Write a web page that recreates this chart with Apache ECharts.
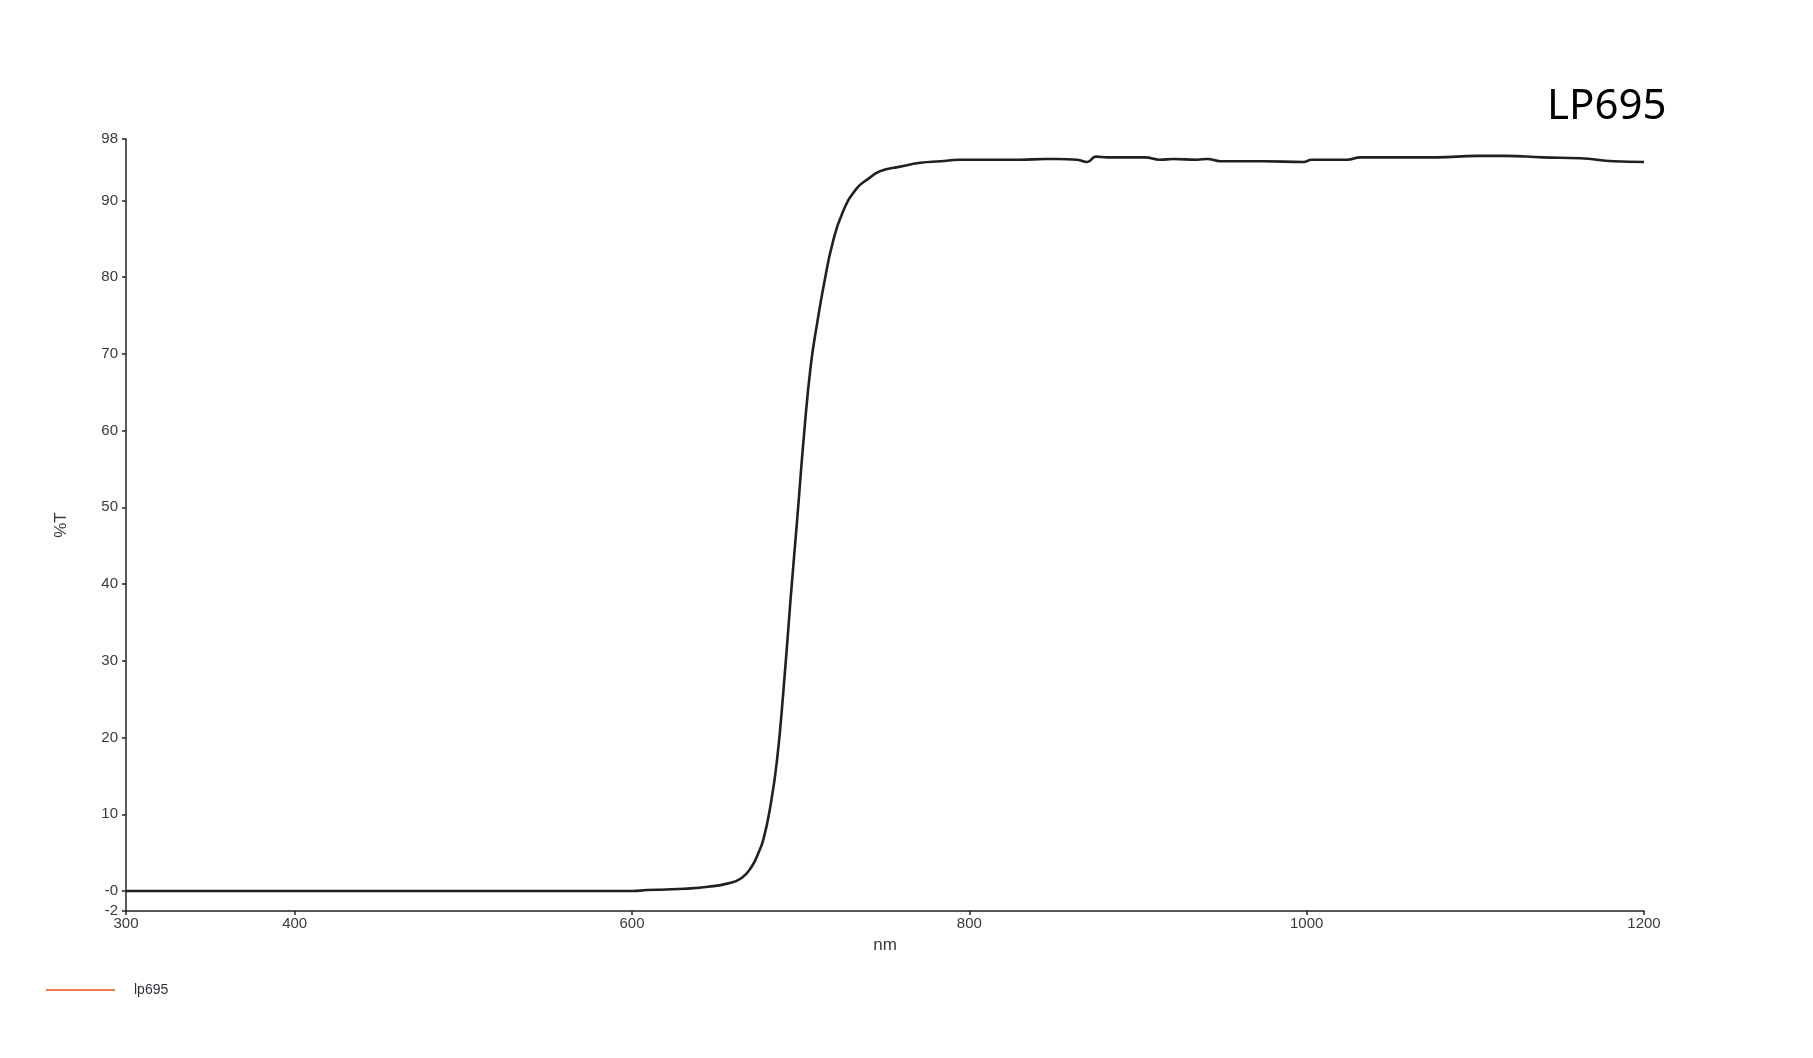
<!DOCTYPE html>
<html>
<head>
<meta charset="utf-8">
<script src="https://cdn.jsdelivr.net/npm/echarts@6/dist/echarts.min.js"></script>
<style>
html,body{margin:0;padding:0;background:#fff;}
#chart{width:1813px;height:1058px;}
</style>
</head>
<body>
<div id="chart"></div>
<script>
const wavelength = [300, 350, 400, 450, 500, 550, 600, 609, 620, 631, 645, 657, 665, 671, 675, 678, 682, 686, 690, 694, 698, 702, 706, 710, 714, 719, 725, 733, 740, 747, 759, 771, 783, 794, 810, 830, 845, 852, 864, 870, 875, 882, 904, 913, 921, 935, 941, 949, 975, 998, 1003, 1024, 1032, 1050, 1067, 1077, 1101, 1118, 1140, 1162, 1182, 1200];
const transmission = [0, 0, 0, 0, 0, 0, 0, 0.13, 0.2, 0.3, 0.56, 1.0, 1.7, 3.2, 5.0, 6.8, 11.0, 17.1, 26.7, 38.0, 48.6, 59.5, 68.5, 74.3, 79.3, 84.5, 88.5, 91.5, 92.8, 93.8, 94.4, 94.9, 95.1, 95.3, 95.3, 95.3, 95.4, 95.4, 95.3, 95.0, 95.7, 95.6, 95.6, 95.3, 95.4, 95.3, 95.4, 95.1, 95.1, 95.0, 95.3, 95.3, 95.6, 95.6, 95.6, 95.6, 95.8, 95.8, 95.6, 95.5, 95.1, 95.0];
const xTickValues = [300, 400, 600, 800, 1000, 1200];
const yTickValues = [-2.6, 0, 10, 20, 30, 40, 50, 60, 70, 80, 90, 98];
const yTickLabels = ['-2', '-0', '10', '20', '30', '40', '50', '60', '70', '80', '90', '98'];
const seriesName = 'lp695';
const chartTitle = 'LP695';
const xName = 'nm';
const yName = '%T';

const points = wavelength.map((w, i) => [w, transmission[i]]);
const chart = echarts.init(document.getElementById('chart'), null, {renderer: 'canvas'});
const axisFont = {fontFamily: 'Liberation Sans, Arial, sans-serif', fontSize: 15, color: '#3a3a3a'};
chart.setOption({
  backgroundColor: '#ffffff',
  animation: false,
  grid: {left: 126, right: 169, top: 139, bottom: 147, containLabel: false},
  graphic: [{
    type: 'text', left: 1547, top: 86,
    style: {text: chartTitle, fontFamily: 'Noto Sans, Open Sans, sans-serif', fontSize: 42, fill: '#000'}
  }],
  legend: {
    left: 46, top: 983, padding: 0, icon: 'rect', itemWidth: 69, itemHeight: 2,
    data: [{name: seriesName, itemStyle: {color: '#f07c4c'}}],
    textStyle: {fontFamily: 'Liberation Sans, Arial, sans-serif', fontSize: 14, color: '#2f2f3a', padding: [0, 0, 0, 14]}
  },
  xAxis: {
    type: 'value', min: 300, max: 1200,
    name: xName, nameLocation: 'middle', nameGap: 26,
    nameTextStyle: {fontFamily: 'Liberation Sans, Arial, sans-serif', fontSize: 17, color: '#3a3a3a'},
    axisLine: {show: true, onZero: false, lineStyle: {color: '#222', width: 1.5}},
    axisTick: {show: true, length: 4, customValues: xTickValues, lineStyle: {color: '#222', width: 1.5}},
    axisLabel: Object.assign({margin: 5, customValues: xTickValues, formatter: v => String(v)}, axisFont),
    splitLine: {show: false}
  },
  yAxis: {
    type: 'value', min: -2.6, max: 98,
    name: yName, nameLocation: 'middle', nameGap: 56, nameRotate: 90,
    nameTextStyle: {fontFamily: 'Liberation Sans, Arial, sans-serif', fontSize: 17, color: '#3a3a3a'},
    axisLine: {show: true, onZero: false, lineStyle: {color: '#222', width: 1.5}},
    axisTick: {show: true, length: 4, customValues: yTickValues, lineStyle: {color: '#222', width: 1.5}},
    axisLabel: Object.assign({
      margin: 8, customValues: yTickValues,
      formatter: v => { const i = yTickValues.findIndex(t => Math.abs(t - v) < 1e-6); return i >= 0 ? yTickLabels[i] : ''; }
    }, axisFont),
    splitLine: {show: false}
  },
  series: [{
    name: seriesName, type: 'line', data: points, showSymbol: false,
    smooth: 0.5,
    lineStyle: {color: '#231f20', width: 2.6},
    itemStyle: {color: '#231f20'}
  }]
});
</script>
</body>
</html>
